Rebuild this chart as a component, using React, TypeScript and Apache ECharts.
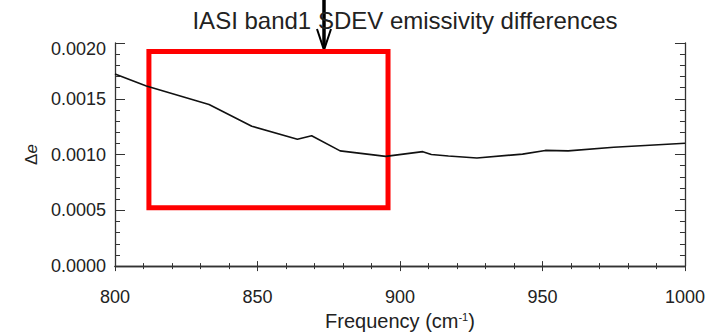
import React, { useEffect, useRef } from "react";
import * as echarts from "echarts";

const freq = [800, 811, 833, 848, 864, 869, 879, 895, 908, 911, 917, 927, 943, 951, 959, 975, 986, 1000];
const sdev = [0.001722, 0.001615, 0.001448, 0.001254, 0.001137, 0.001169, 0.001033, 0.000984, 0.001026, 0.001, 0.000987, 0.000969, 0.001004, 0.001037, 0.001033, 0.001066, 0.001081, 0.001101];
const xTicks = [800, 850, 900, 950, 1000];
const yTicks = ["0.0000", "0.0005", "0.0010", "0.0015", "0.0020"];
const boxX = [811.9, 895.8];
const boxY = [0.000524, 0.001923];

const FONT = "Liberation Sans";
const AX = "#333";

export default function App() {
  const ref = useRef<HTMLDivElement>(null);
  useEffect(() => {
    document.body.style.margin = "0";
    const chart = echarts.init(ref.current!, null, { renderer: "svg" });
    const yBase = (pos: "left" | "right", interval: number, len: number, showLabel: boolean, showLine: boolean) => ({
      type: "value",
      position: pos,
      min: 0,
      max: 0.002,
      interval,
      splitLine: { show: false },
      axisLine: { show: showLine, lineStyle: { color: AX, width: 1.3 } },
      axisTick: { show: true, inside: true, length: len, lineStyle: { color: AX, width: 1 } },
      axisLabel: {
        show: showLabel,
        margin: 9,
        fontFamily: FONT,
        fontSize: 18,
        color: "#222",
        rich: { top: { fontFamily: FONT, fontSize: 18, color: "#222", padding: [12, 0, 0, 0] } },
        formatter: (v: number) => {
          const s = v.toFixed(4);
          if (!yTicks.includes(s)) return "";
          return s === yTicks[yTicks.length - 1] ? "{top|" + s + "}" : s;
        },
      },
    });
    const xBase = (pos: "bottom" | "top", showLabel: boolean) => ({
      type: "value",
      position: pos,
      min: xTicks[0],
      max: xTicks[xTicks.length - 1],
      interval: 50,
      splitLine: { show: false },
      axisLine: { show: true, lineStyle: { color: AX, width: 1.3 } },
      axisTick: { show: true, inside: true, length: 5, lineStyle: { color: AX, width: 1 } },
      minorTick: { show: true, splitNumber: 5, length: 3, lineStyle: { color: AX, width: 1 } },
      minorSplitLine: { show: false },
      axisLabel: {
        show: showLabel,
        margin: 22,
        fontFamily: FONT,
        fontSize: 18,
        color: "#222",
        formatter: (v: number) => String(v),
      },
    });
    chart.setOption({
      animation: false,
      backgroundColor: "#fff",
      title: {
        text: "IASI band1 SDEV emissivity differences",
        left: 400,
        textAlign: "center",
        top: 3,
        textStyle: { fontFamily: FONT, fontSize: 24, fontWeight: "normal", color: "#222" },
      },
      grid: { left: 115, right: 23, top: 43, bottom: 66 },
      xAxis: [
        {
          ...xBase("bottom", true),
          name: "Frequency (cm{sup|-1})",
          nameLocation: "middle",
          nameGap: 43,
          nameTextStyle: {
            fontFamily: FONT,
            fontSize: 20,
            color: "#222",
            rich: { sup: { fontFamily: FONT, fontSize: 11, color: "#222", verticalAlign: "top", padding: [0, 0, 9, 0] } },
          },
        },
        xBase("top", false),
      ],
      yAxis: [
        {
          ...yBase("left", 0.0005, 10, true, true),
          name: "Δ{it|e}",
          nameLocation: "middle",
          nameGap: 72,
          nameRotate: 90,
          nameTextStyle: {
            fontFamily: FONT,
            fontSize: 17,
            color: "#222",
            rich: { it: { fontFamily: FONT, fontSize: 17, fontStyle: "italic", color: "#222" } },
          },
        },
        yBase("left", 0.0001, 5, false, false),
        yBase("right", 0.0005, 10, false, true),
        yBase("right", 0.0001, 5, false, false),
      ],
      series: [
        {
          type: "line",
          xAxisIndex: 0,
          yAxisIndex: 0,
          data: freq.map((f, i) => [f, sdev[i]]),
          showSymbol: false,
          symbol: "none",
          lineStyle: { color: "#111", width: 1.6 },
          markArea: {
            silent: true,
            itemStyle: { color: "rgba(0,0,0,0)", borderColor: "#ff0000", borderWidth: 5 },
            data: [[{ coord: [boxX[0], boxY[1]] }, { coord: [boxX[1], boxY[0]] }]],
          },
        },
      ],
      graphic: [
        { type: "line", shape: { x1: 324, y1: 0, x2: 324, y2: 47 }, style: { stroke: "#000", lineWidth: 3.5 } },
        { type: "polyline", shape: { points: [[317, 29], [324, 50], [331, 29]] }, style: { stroke: "#000", lineWidth: 2, fill: "none" } },
      ],
    });
    return () => chart.dispose();
  }, []);
  return <div ref={ref} style={{ width: 708, height: 336, position: "absolute", left: 0, top: 0 }} />;
}
